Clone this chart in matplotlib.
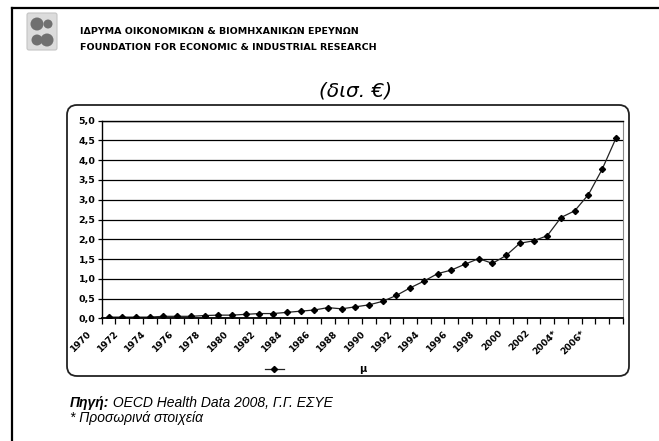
import numpy as np
import matplotlib.pyplot as plt
import matplotlib.transforms as mtransforms
from matplotlib.patches import FancyBboxPatch, Circle
from matplotlib.lines import Line2D

############# data ###############################################################

years = ['1970', '1971', '1972', '1973', '1974', '1975', '1976', '1977', '1978', '1979',
         '1980', '1981', '1982', '1983', '1984', '1985', '1986', '1987', '1988', '1989',
         '1990', '1991', '1992', '1993', '1994', '1995', '1996', '1997', '1998', '1999',
         '2000', '2001', '2002', '2003', '2004*', '2005*', '2006*', '2007*']
spending = [0.03, 0.03, 0.03, 0.03, 0.05, 0.05, 0.05, 0.07, 0.08, 0.08,
            0.10, 0.12, 0.12, 0.15, 0.18, 0.21, 0.27, 0.24, 0.29, 0.34,
            0.43, 0.58, 0.77, 0.94, 1.13, 1.22, 1.37, 1.51, 1.39, 1.59,
            1.90, 1.96, 2.09, 2.55, 2.72, 3.13, 3.77, 4.55]
y_ticks = [0.0, 0.5, 1.0, 1.5, 2.0, 2.5, 3.0, 3.5, 4.0, 4.5, 5.0]
y_ticklabels = ['0,0', '0,5', '1,0', '1,5', '2,0', '2,5', '3,0', '3,5', '4,0', '4,5', '5,0']

header_gr = 'ΙΔΡΥΜΑ ΟΙΚΟΝΟΜΙΚΩΝ & ΒΙΟΜΗΧΑΝΙΚΩΝ ΕΡΕΥΝΩΝ'
header_en = 'FOUNDATION FOR ECONOMIC & INDUSTRIAL RESEARCH'
unit_title = '(δισ. €)'
legend_label = 'μ'
source_head = 'Πηγή:'
source_text = ' OECD Health Data 2008, Γ.Γ. ΕΣΥΕ'
note_text = '* Προσωρινά στοιχεία'

############ figure ##############################################################

W, H = 659, 441
fig = plt.figure(figsize=(W / 100, H / 100), dpi=100)
px = mtransforms.IdentityTransform()

# page border (top and left edges visible)
fig.add_artist(Line2D([12, W], [H - 8, H - 8], transform=px, color='black', lw=1.6))
fig.add_artist(Line2D([12, 12], [0, H - 8], transform=px, color='black', lw=1.6))

# logo
fig.add_artist(FancyBboxPatch((27, H - 50), 30, 37, transform=px,
                              boxstyle='round,pad=0,rounding_size=2',
                              facecolor='#dcdcdc', edgecolor='#c4c4c4', lw=0.8))
for cx, cy, r in [(37, H - 24, 6.5), (48, H - 24, 4.5), (37, H - 40, 5.5), (47, H - 40, 6.5)]:
    fig.add_artist(Circle((cx, cy), r, transform=px, facecolor='#707070', edgecolor='none'))

fig.text(80 / W, 1 - 32 / H, header_gr, fontsize=6.8, fontweight='bold',
         family='DejaVu Sans', va='center', ha='left')
fig.text(80 / W, 1 - 47 / H, header_en, fontsize=6.8, fontweight='bold',
         family='DejaVu Sans', va='center', ha='left')

# rounded chart frame
fig.add_artist(FancyBboxPatch((67, H - 376), 562, 271, transform=px,
                              boxstyle='round,pad=0,rounding_size=10',
                              facecolor='none', edgecolor='#222222', lw=1.3))

fig.text(356 / W, 1 - 91 / H, unit_title, fontsize=14.5, style='italic',
         family='DejaVu Sans', ha='center', va='center')

ax = fig.add_axes([101.7 / W, 1 - 318.3 / H, 521.0 / W, 197.6 / H])
x = np.arange(len(years))
line, = ax.plot(x, spending, color='#222222', lw=0.9, marker='D', markersize=3.1,
                markerfacecolor='black', markeredgecolor='black', label=legend_label)

ax.set_xlim(-0.5, len(years) - 0.5)
ax.set_ylim(0, 5)
ax.set_yticks(y_ticks)
ax.set_yticklabels(y_ticklabels, fontsize=6.8, fontweight='bold', family='DejaVu Sans')
ax.yaxis.grid(True, color='black', lw=0.9)
ax.set_axisbelow(True)
ax.tick_params(axis='y', length=3, width=0.9, pad=1.5)

ax.set_xticks(x[::2])
ax.set_xticklabels(years[::2], rotation=45, ha='right', rotation_mode='anchor',
                   fontsize=6.6, fontweight='bold', family='DejaVu Sans')
ax.set_xticks(np.arange(-0.5, len(years), 1), minor=True)
ax.tick_params(axis='x', which='major', length=0, pad=6)
ax.tick_params(axis='x', which='minor', length=4, width=0.9)
shift = mtransforms.ScaledTranslation(-0.22, -0.02, fig.dpi_scale_trans)
for lab in ax.get_xticklabels():
    lab.set_transform(lab.get_transform() + shift)

for s in ['left', 'bottom', 'top']:
    ax.spines[s].set_color('black')
    ax.spines[s].set_linewidth(1.0)
ax.spines['bottom'].set_linewidth(1.3)
ax.spines['right'].set_color('#888888')

fig.legend(handles=[line], loc='center', bbox_to_anchor=(316 / W, 1 - 369 / H),
           frameon=False, handlelength=1.9, handletextpad=7.8, numpoints=1,
           prop={'family': 'DejaVu Sans', 'weight': 'bold', 'size': 7})

# footer: bold head, then the rest right after it
head = fig.text(70 / W, 1 - 403 / H, source_head, fontsize=10, style='italic',
                fontweight='bold', family='Liberation Sans', ha='left', va='center')
fig.canvas.draw()
bb = head.get_window_extent(renderer=fig.canvas.get_renderer())
fig.text(bb.x1 / W, 1 - 403 / H, source_text, fontsize=10, style='italic',
         family='Liberation Sans', ha='left', va='center')
fig.text(70 / W, 1 - 418 / H, note_text, fontsize=10, style='italic',
         family='Liberation Sans', ha='left', va='center')

fig.savefig('out.png', dpi=100)
